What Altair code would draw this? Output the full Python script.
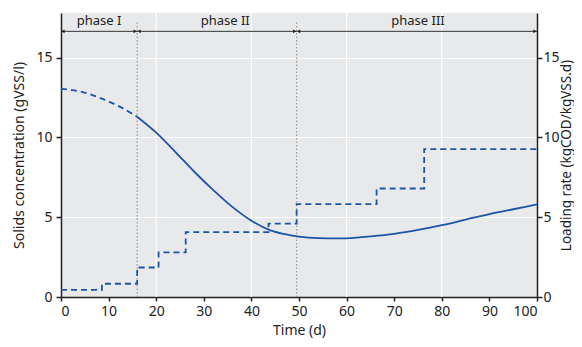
import altair as alt
import pandas as pd

# ---- data ----
time_pts = [0, 4, 8, 12, 16, 20, 24, 28, 32, 36, 40, 44, 48, 52, 56, 60, 65, 70, 75, 80, 85, 90, 95, 100]
solids = [13.05, 12.88, 12.5, 11.98, 11.3, 10.3, 9.1, 7.85, 6.7, 5.65, 4.78, 4.17, 3.88, 3.72, 3.67, 3.68, 3.8, 3.96, 4.2, 4.5, 4.85, 5.2, 5.5, 5.8]

step_t = [0, 8.6, 16, 20.5, 26.2, 43.6, 49.5, 66.3, 76.3, 100]
loading = [0.45, 0.83, 1.85, 2.8, 4.07, 4.6, 5.82, 6.8, 9.27, 9.27]

phase_bounds = [16, 49.5]
phase_names = ["phase I", "phase II", "phase III"]
phase_start = [0, 16, 49.5]
phase_end = [16, 49.5, 100]
phase_label_x = [8, 34.5, 75]
arrow_level = 16.65
label_level = 17.03
x_grid = [20, 40, 60, 80]

BLUE = "#1c55a8"
FONT = "Noto Sans"
YMAX = 17.8
PLOT_H = 284

curve = pd.DataFrame({"t": time_pts, "s": solids})
steps = pd.DataFrame({"t": step_t, "l": loading})
bounds = pd.DataFrame({"t": phase_bounds, "y0": [0] * 2, "y1": [17.2] * 2})
phases = pd.DataFrame({"name": phase_names, "a": phase_start, "b": phase_end,
                       "lx": phase_label_x, "y": [arrow_level] * 3, "ly": [label_level] * 3})
grid = pd.DataFrame({"t": x_grid})

xs = alt.Scale(domain=[0, 100], nice=False, zero=False)
ys = alt.Scale(domain=[0, YMAX], nice=False, zero=False)

x_axis = alt.Axis(values=list(range(0, 101, 10)), grid=False, title="Time (d)",
                  tickSize=4, labelPadding=3, titlePadding=5)
left_axis = alt.Axis(values=[0, 5, 10, 15], grid=True, gridColor="white", gridWidth=1.2,
                     title="Solids concentration (gVSS/l)", tickSize=5, labelPadding=4,
                     titlePadding=9)
right_axis = alt.Axis(values=[0, 5, 10, 15], grid=False, orient="right",
                      title="Loading rate (kgCOD/kgVSS.d)", tickSize=5, labelPadding=1,
                      titlePadding=0, titleAngle=270, titleBaseline="top",
                      titleFontSize=13.5)

grid_layer = alt.Chart(grid).mark_rule(color="white", strokeWidth=1.2).encode(
    x=alt.X("t:Q", scale=xs, axis=x_axis),
    y=alt.value(0), y2=alt.value(PLOT_H))

bound_layer = alt.Chart(bounds).mark_rule(color="#9a9a9a", strokeDash=[1.5, 2], strokeWidth=1.2).encode(
    x=alt.X("t:Q", scale=xs),
    y=alt.Y("y0:Q", scale=ys, axis=left_axis), y2="y1:Q")

base_curve = alt.Chart(curve).encode(
    x=alt.X("t:Q", scale=xs),
    y=alt.Y("s:Q", scale=ys, axis=left_axis))
curve_dash = base_curve.transform_filter("datum.t <= 16").mark_line(
    color=BLUE, strokeWidth=1.8, strokeDash=[6, 4], interpolate="monotone")
curve_solid = base_curve.transform_filter("datum.t >= 16").mark_line(
    color=BLUE, strokeWidth=1.8, interpolate="monotone")

arrows = alt.Chart(phases).mark_rule(color="#222", strokeWidth=0.9).encode(
    x=alt.X("a:Q", scale=xs), x2="b:Q",
    y=alt.Y("y:Q", scale=ys))
heads_l = alt.Chart(phases).mark_point(shape="triangle-left", filled=True, size=14,
                                        color="#222", opacity=1, xOffset=2).encode(
    x=alt.X("a:Q", scale=xs), y=alt.Y("y:Q", scale=ys))
heads_r = alt.Chart(phases).mark_point(shape="triangle-right", filled=True, size=14,
                                        color="#222", opacity=1, xOffset=-2).encode(
    x=alt.X("b:Q", scale=xs), y=alt.Y("y:Q", scale=ys))
labels = alt.Chart(phases).mark_text(font=FONT, fontSize=13, color="#222",
                                     baseline="alphabetic").encode(
    x=alt.X("lx:Q", scale=xs), y=alt.Y("ly:Q", scale=ys), text="name:N")

left_group = alt.layer(grid_layer, bound_layer, curve_dash, curve_solid,
                       arrows, heads_l, heads_r, labels)

step_layer = alt.Chart(steps).mark_line(color=BLUE, strokeWidth=1.8, strokeDash=[6, 4],
                                        interpolate="step-after").encode(
    x=alt.X("t:Q", scale=xs),
    y=alt.Y("l:Q", scale=ys, axis=right_axis))

chart = alt.layer(left_group, step_layer).resolve_scale(y="independent").properties(
    width=476, height=PLOT_H,
    autosize=alt.AutoSizeParams(type="none"),
    padding={"left": 53, "top": 5, "right": 37, "bottom": 42},
).configure_view(fill="#e8e9eb", stroke=None).configure_axis(
    labelFont=FONT, titleFont=FONT, labelFontSize=14, titleFontSize=14,
    titleFontWeight="normal", labelColor="#222", titleColor="#222",
    domainColor="#222", tickColor="#222", domainWidth=1.5, tickWidth=1.5,
)

chart.save("out.html", embed_options={"renderer": "svg", "actions": False})
